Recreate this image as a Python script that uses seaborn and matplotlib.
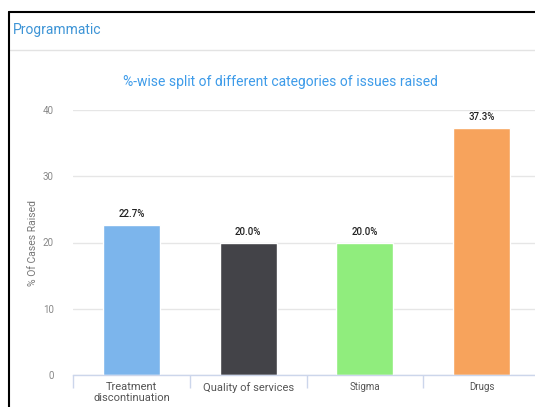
import matplotlib
matplotlib.use("Agg")
import matplotlib.pyplot as plt
import seaborn as sns
import pandas as pd
from matplotlib.lines import Line2D

categories = ["Treatment\ndiscontinuation", "Quality of services", "Stigma", "Drugs"]
values = [22.7, 20.0, 20.0, 37.3]
colors = ["#7cb5ec", "#434348", "#90ed7d", "#f7a35c"]
yticks = [0, 10, 20, 30, 40]

sns.set_theme(style="white")
plt.rcParams['font.family'] = ['Roboto', 'DejaVu Sans']

df = pd.DataFrame({"cat": categories, "val": values})

W, H = 535, 407
fig = plt.figure(figsize=(W / 100, H / 100), dpi=100)
fig.patch.set_facecolor("white")
ax = fig.add_axes([73 / W, (H - 375) / H, (540 - 73) / W, 265 / H])

sns.barplot(data=df, x="cat", y="val", hue="cat", palette=colors, legend=False,
            width=0.49, saturation=1, ax=ax, order=categories, hue_order=categories)

ax.set_ylim(0, 40)
ax.set_xlim(-0.5, 3.5)
ax.set_yticks(yticks)
ax.set_yticklabels([str(t) for t in yticks], fontsize=7, color="#888888")
ax.tick_params(axis="y", length=0, pad=14)
ax.yaxis.grid(True, color="#e6e6e6", linewidth=1)
ax.set_axisbelow(True)
for s in ["top", "right", "left"]:
    ax.spines[s].set_visible(False)
ax.spines["bottom"].set_color("#ccd6eb")
ax.spines["bottom"].set_linewidth(1)

ax.set_xlabel("")
ax.set_ylabel("% Of Cases Raised", fontsize=7.5, color="#777777", labelpad=3)

# category tick marks at boundaries
ax.set_xticks([-0.5, 0.5, 1.5, 2.5, 3.5], minor=True)
ax.tick_params(axis="x", which="minor", length=9, color="#ccd6eb", width=1, bottom=True)
ax.tick_params(axis="x", which="major", length=0, pad=5)
ax.set_xticks(range(len(categories)))
ax.set_xticklabels(categories, color="#555555", linespacing=1.1)
for i, lab in enumerate(ax.get_xticklabels()):
    lab.set_fontsize(8 if i < 2 else 7)
    lab.set_verticalalignment("top")

for i, v in enumerate(values):
    ax.annotate(f"{v:.1f}%", (i, v), xytext=(0, 4), textcoords="offset points",
                ha="center", va="bottom", fontsize=7, fontweight="medium", color="#222222")

# header and frame
fig.text(13 / W, 1 - 30 / H, "Programmatic", fontsize=10, color="#3d94d6",
         ha="left", va="center")
fig.text(280 / W, 1 - 82 / H, "%-wise split of different categories of issues raised",
         fontsize=10, color="#3d9be9", ha="center", va="center")
fig.add_artist(Line2D([10 / W, 1], [1 - 50 / H, 1 - 50 / H], color="#e3e3e3", linewidth=1))
fig.add_artist(Line2D([9 / W, 9 / W], [0, 1 - 12 / H], color="black", linewidth=1.5))
fig.add_artist(Line2D([9 / W, 1], [1 - 12 / H, 1 - 12 / H], color="black", linewidth=1.5))

fig.savefig("out.png", dpi=100)
